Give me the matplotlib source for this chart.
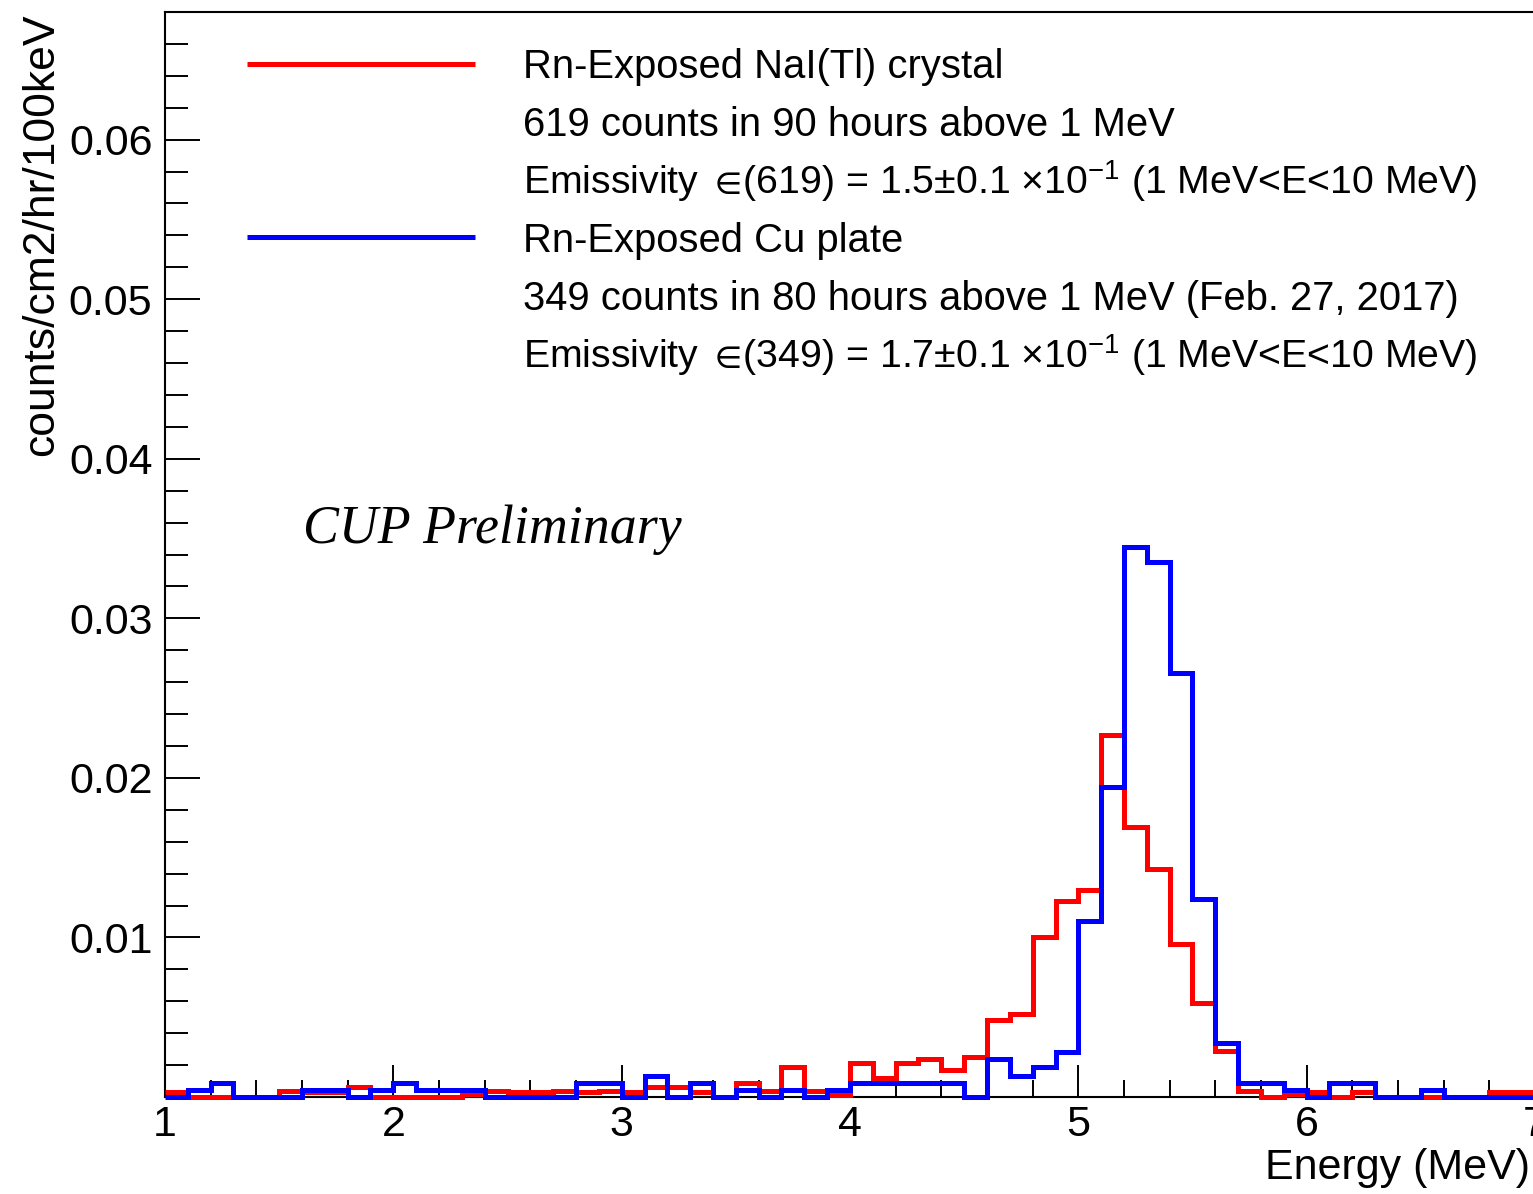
import numpy as np
import matplotlib
matplotlib.use("Agg")
import matplotlib.pyplot as plt
from matplotlib.ticker import MultipleLocator, FixedLocator, FormatStrFormatter

# ---- data (counts/cm2/hr/100keV per 0.1 MeV bin, 1.0 - 7.0 MeV) ----
energy_edges = np.round(np.arange(1.0, 7.0001, 0.1), 1)

nai_values = [
    0.0003, 0.0, 0.0, 0.0, 0.0, 0.0004, 0.0003, 0.0003, 0.0006, 0.0,      # 1.0-2.0
    0.0, 0.0, 0.0, 0.0002, 0.0004, 0.0003, 0.0003, 0.0004, 0.0003, 0.0004,  # 2.0-3.0
    0.0003, 0.0006, 0.0006, 0.0003, 0.0, 0.0009, 0.0004, 0.0019, 0.0004, 0.0001,  # 3.0-4.0
    0.0021, 0.0012, 0.0021, 0.0024, 0.0017, 0.0025, 0.0048, 0.0052, 0.0100, 0.0123,  # 4.0-5.0
    0.0130, 0.0227, 0.0169, 0.0143, 0.0096, 0.0059, 0.0029, 0.0004, 0.0, 0.0002,  # 5.0-6.0
    0.0003, 0.0, 0.0003, 0.0, 0.0, 0.0, 0.0, 0.0, 0.0003, 0.0003,        # 6.0-7.0
]

cu_values = [
    0.0, 0.00043, 0.00086, 0.0, 0.0, 0.0, 0.00043, 0.00043, 0.0, 0.00043,   # 1.0-2.0
    0.00086, 0.00043, 0.00043, 0.00043, 0.0, 0.0, 0.0, 0.0, 0.00086, 0.00086,  # 2.0-3.0
    0.0, 0.0013, 0.0, 0.00086, 0.0, 0.00043, 0.0, 0.00043, 0.0, 0.00043,    # 3.0-4.0
    0.00086, 0.00086, 0.00086, 0.00086, 0.00086, 0.0, 0.0024, 0.0013, 0.0019, 0.0028,  # 4.0-5.0
    0.0110, 0.0194, 0.0345, 0.0335, 0.0266, 0.0124, 0.0034, 0.00086, 0.00086, 0.00043,  # 5.0-6.0
    0.0, 0.00086, 0.00086, 0.0, 0.0, 0.00043, 0.0, 0.0, 0.0, 0.0,          # 6.0-7.0
]

legend_labels = [
    "Rn-Exposed NaI(Tl) crystal",
    "619 counts in 90 hours above 1 MeV",
    "Emissivity ${\\in}\\!$(619) = 1.5\u00b10.1 \u00d710$^{-1}$ (1 MeV<E<10 MeV)",
    "Rn-Exposed Cu plate",
    "349 counts in 80 hours above 1 MeV (Feb. 27, 2017)",
    "Emissivity ${\\in}\\!$(349) = 1.7\u00b10.1 \u00d710$^{-1}$ (1 MeV<E<10 MeV)",
]
legend_colors = ['#ff0000', None, None, '#0000ff', None, None]
y_major_ticks = [0.01, 0.02, 0.03, 0.04, 0.05, 0.06]
x_major_ticks = [1, 2, 3, 4, 5, 6, 7]

# ---- style ----
plt.rcParams['font.family'] = ['Liberation Sans', 'DejaVu Sans']
plt.rcParams['mathtext.fontset'] = 'custom'
plt.rcParams['mathtext.rm'] = 'Liberation Sans'
plt.rcParams['mathtext.it'] = 'Liberation Sans:italic'
plt.rcParams['mathtext.fallback'] = 'stixsans'

W, H = 1533, 1194
fig = plt.figure(figsize=(W / 100, H / 100), dpi=100)
left_px, right_px, top_px, bot_px = 165, 1535, 12, 1097
ax = fig.add_axes([left_px / W, 1 - bot_px / H, (right_px - left_px) / W, (bot_px - top_px) / H])

def ax_x(px):
    return (px - left_px) / (right_px - left_px)

def ax_y(py):
    return (bot_px - py) / (bot_px - top_px)

lw = 3.6
ax.stairs(nai_values, energy_edges, baseline=None, color='#ff0000', linewidth=lw, clip_on=False, zorder=3)
ax.stairs(cu_values, energy_edges, baseline=None, color='#0000ff', linewidth=lw, clip_on=False, zorder=4)

ax.set_xlim(1, 7)
ax.set_ylim(0, 0.068)

ax.xaxis.set_major_locator(FixedLocator(x_major_ticks))
ax.xaxis.set_major_formatter(FormatStrFormatter('%d'))
ax.xaxis.set_minor_locator(MultipleLocator(0.2))
ax.yaxis.set_major_locator(FixedLocator(y_major_ticks))
ax.yaxis.set_major_formatter(FormatStrFormatter('%.2f'))
ax.yaxis.set_minor_locator(MultipleLocator(0.002))

ax.tick_params(axis='both', which='both', direction='in', width=1.4, color='black',
               labelsize=31, top=False, right=False)
ax.tick_params(axis='y', which='major', length=25, pad=9)
ax.tick_params(axis='y', which='minor', length=16.5)
ax.tick_params(axis='x', which='major', length=23, pad=6)
ax.tick_params(axis='x', which='minor', length=12)
for s in ax.spines.values():
    s.set_linewidth(1.5)

# legend (ROOT TLegend style): fixed row pitch
row0_center, row_pitch = 64, 57.8
for i, (lab, col) in enumerate(zip(legend_labels, legend_colors)):
    yc = row0_center + i * row_pitch
    fs = 28.3 if '$' in lab else 28.8
    if col is not None:
        ax.plot([ax_x(247), ax_x(475)], [ax_y(yc), ax_y(yc)], color=col, linewidth=lw,
                transform=ax.transAxes, solid_capstyle='butt')
    ax.text(ax_x(523), ax_y(yc + 14.5), lab, transform=ax.transAxes,
            fontsize=fs, ha='left', va='baseline')

ax.text(ax_x(303), ax_y(530), "CUP Preliminary", transform=ax.transAxes,
        family='Liberation Serif', style='italic', fontsize=38.8, va='center', ha='left')

fig.text(42 / W, 1 - 14 / H, "counts/cm2/hr/100keV", rotation=90, ha='center', va='top', fontsize=32)
fig.text(1530 / W, 1 - 1168 / H, "Energy (MeV)", ha='right', va='center', fontsize=31)

fig.savefig("out.png", dpi=100)
